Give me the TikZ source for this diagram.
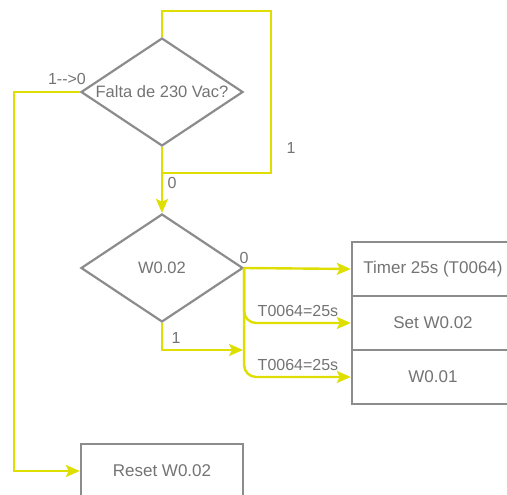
\documentclass[tikz,border=0pt]{standalone}
\usepackage{fontspec}
\setmainfont{Liberation Sans}
\usetikzlibrary{shapes.geometric,arrows.meta}

\definecolor{lineGray}{RGB}{140,140,140}
\definecolor{flowYellow}{RGB}{222,222,0}
\definecolor{textGray}{RGB}{115,115,115}

\tikzset{
    decision/.style={diamond, aspect=1.5, draw=lineGray, line width=2.2pt, inner sep=0pt,
        minimum width=162pt, minimum height=108pt, text=textGray,
        font=\fontsize{16.5}{18}\selectfont},
    action/.style={rectangle, draw=lineGray, line width=2.4pt,
        minimum width=162pt, minimum height=54pt, text=textGray,
        font=\fontsize{17}{19}\selectfont},
    flow/.style={draw=flowYellow, line width=2.4pt},
    tag/.style={text=textGray, font=\fontsize{16}{18}\selectfont, inner sep=0pt}
}

\begin{document}
\begin{tikzpicture}[x=1pt, y=-1pt, >={Stealth[length=14pt, width=12pt, inset=3pt]}]
    \useasboundingbox (0,0) rectangle (507,495);
    \clip (0,0) rectangle (507,495);

    % Decisions
    \node[decision] (power) at (162,92) {Falta de 230 Vac?};
    \node[decision] (flag) at (162,268) {W0.02};

    % Actions
    \node[action] (timer) at (433,269) {Timer 25s (T0064)};
    \node[action] (setw) at (433,323) {Set W0.02};
    \node[action] (wout) at (433,377) {W0.01};
    \node[action] (reset) at (162,471) {Reset W0.02};

    % Helper points
    \coordinate (loopTL) at (162,11);
    \coordinate (loopTR) at (271,11);
    \coordinate (loopBR) at (271,173);
    \coordinate (loopJoin) at (162,173);
    \coordinate (leftTop) at (14,92);
    \coordinate (merge) at (243,350);

    % Loop while power is present
    \draw[flow] (power.north) -- (loopTL) -- (loopTR) -- (loopBR) -- (loopJoin);
    \node[tag] at (291,148) {1};

    % Power lost
    \draw[flow,->] (power.south) -- (flag.north);
    \node[tag] at (172,183) {0};
    \draw[flow,->] (power.west) -- (leftTop) |- (reset.west);
    \node[tag] at (67,79) {1{-}{-}>0};

    % Flag branches
    \draw[flow,->] (flag.east) -- (timer.west);
    \node[tag] at (244,258) {0};
    \draw[flow,->,rounded corners=12pt] (flag.east) |- (setw.west);
    \draw[flow,->,rounded corners=12pt] (flag.east) |- (wout.west);
    \node[tag] at (298,311) {T0064=25s};
    \node[tag] at (298,365) {T0064=25s};
    \draw[flow,->] (flag.south) |- (merge);
    \node[tag] at (176,338) {1};
\end{tikzpicture}
\end{document}
